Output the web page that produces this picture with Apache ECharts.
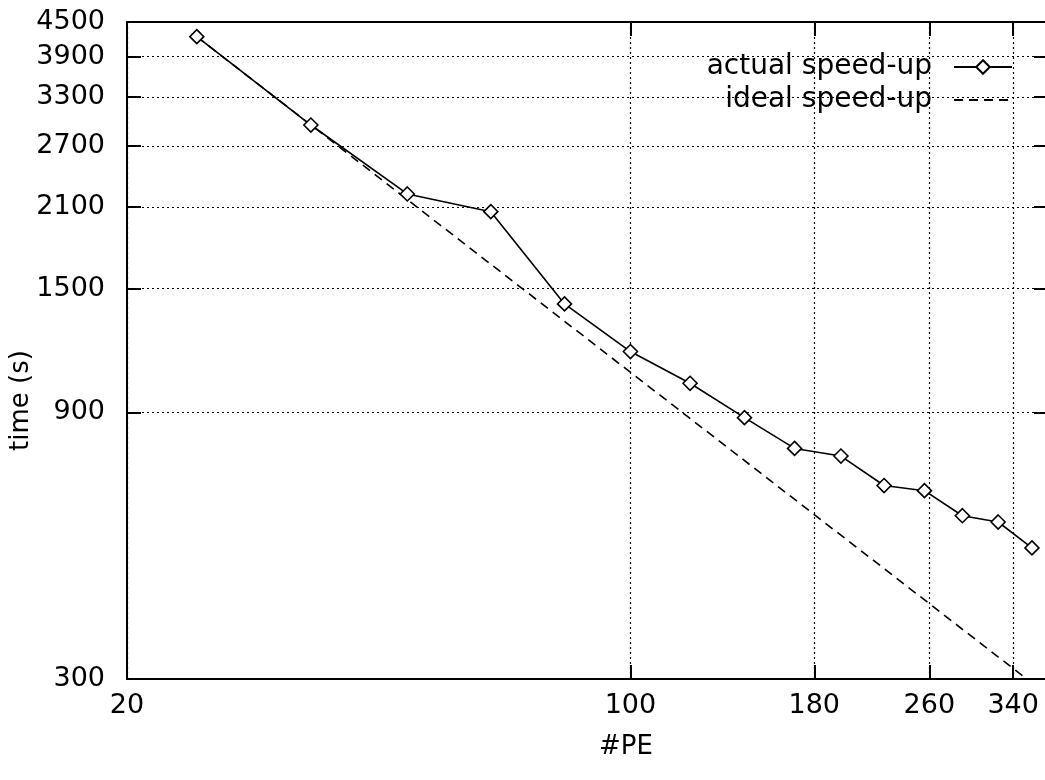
<!DOCTYPE html>
<html>
<head>
<meta charset="utf-8">
<title>time vs #PE</title>
<script src="https://cdn.jsdelivr.net/npm/echarts@6/dist/echarts.min.js"></script>
<style>
  html, body { margin: 0; padding: 0; background: #fff; }
  #chart { width: 1045px; height: 780px; }
</style>
</head>
<body>
<div id="chart"></div>
<script>
// Number of processing elements used in each run
const peCounts = [25, 36, 49, 64, 81, 100, 121, 144, 169, 196, 225, 256, 289, 324, 361];
// Measured wall-clock time (s) for each run
const actualTime = [4236, 2943, 2215, 2059, 1408, 1157, 1015, 881, 776, 752, 666, 652, 588, 573, 515];
// Ideal speed-up reference line (end points)
const idealPE = [25, 355];
const idealTime = [4236, 300];
// Tick labels
const xTicks = [20, 100, 180, 260, 340];
const yTicks = [300, 900, 1500, 2100, 2700, 3300, 3900, 4500];

const FONT = 'DejaVu Sans';
const BLACK = '#000';

const chart = echarts.init(document.getElementById('chart'), null, { renderer: 'canvas' });

const gridDots = { type: [2, 3], color: BLACK, width: 1.2 };
const frame = { show: true, onZero: false, lineStyle: { color: BLACK, width: 2 } };
const inTick = (vals) => ({ show: true, inside: true, length: 14, lineStyle: { color: BLACK, width: 2 }, customValues: vals });

const option = {
  backgroundColor: '#fff',
  animation: false,
  grid: { left: 127, right: -3, top: 22, bottom: 101, containLabel: false, outerBoundsMode: 'none' },
  legend: {
    orient: 'vertical',
    align: 'right',
    right: 32,
    top: 53,
    padding: 0,
    itemWidth: 58,
    itemHeight: 17,
    itemGap: 5,
    selectedMode: false,
    textStyle: { fontFamily: FONT, fontSize: 28, color: BLACK, padding: [0, 17, 0, 0] },
    data: [
      { name: 'actual speed-up' },
      { name: 'ideal speed-up', itemStyle: { opacity: 0 } }
    ]
  },
  xAxis: [
    {
      type: 'log', logBase: 10, min: 20, max: 380, position: 'bottom',
      axisLine: frame,
      axisTick: inTick(xTicks),
      minorTick: { show: false },
      axisLabel: {
        customValues: xTicks, fontFamily: FONT, fontSize: 27, color: BLACK, margin: 13,
        formatter: (v) => String(Math.round(v))
      },
      splitLine: { show: true, lineStyle: gridDots },
      name: '#PE', nameLocation: 'middle', nameGap: 55, nameMoveOverlap: false,
      nameTextStyle: { fontFamily: FONT, fontSize: 26, color: BLACK, padding: [0, 0, 0, 77] }
    },
    {
      type: 'log', logBase: 10, min: 20, max: 380, position: 'top',
      axisLine: frame,
      axisTick: inTick(xTicks),
      axisLabel: { show: false },
      splitLine: { show: false }
    }
  ],
  yAxis: [
    {
      type: 'log', logBase: 10, min: 300, max: 4500, position: 'left',
      axisLine: frame,
      axisTick: inTick(yTicks),
      minorTick: { show: false },
      axisLabel: {
        customValues: yTicks, fontFamily: FONT, fontSize: 27, color: BLACK, margin: 22,
        formatter: (v) => String(Math.round(v))
      },
      splitLine: { show: true, lineStyle: gridDots },
      name: 'time (s)', nameLocation: 'middle', nameGap: 93, nameMoveOverlap: false,
      nameTextStyle: { fontFamily: FONT, fontSize: 26, color: BLACK, padding: [0, 100, 0, 0] }
    },
    {
      type: 'log', logBase: 10, min: 300, max: 4500, position: 'right',
      axisLine: { show: false },
      axisTick: inTick(yTicks),
      axisLabel: { show: false },
      splitLine: { show: false }
    }
  ],
  series: [
    {
      name: 'actual speed-up',
      type: 'line',
      xAxisIndex: 0, yAxisIndex: 0,
      data: peCounts.map((p, i) => [p, actualTime[i]]),
      symbol: 'diamond',
      symbolSize: 14,
      showAllSymbol: true,
      lineStyle: { color: BLACK, width: 1.6 },
      itemStyle: { color: '#fff', borderColor: BLACK, borderWidth: 1.6 },
      z: 3
    },
    {
      name: 'ideal speed-up',
      type: 'line',
      xAxisIndex: 0, yAxisIndex: 0,
      data: idealPE.map((p, i) => [p, idealTime[i]]),
      symbol: 'none',
      lineStyle: { color: BLACK, width: 1.6, type: [9, 6] },
      itemStyle: { color: BLACK },
      z: 2
    }
  ]
};

chart.setOption(option);
</script>
</body>
</html>
